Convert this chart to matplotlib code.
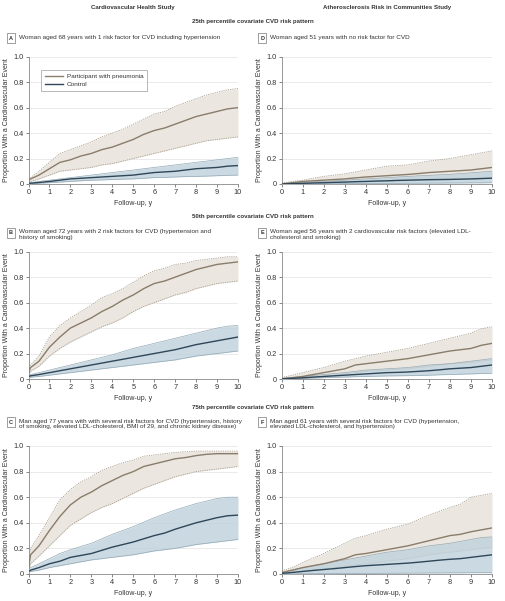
import matplotlib
matplotlib.use("Agg")
import matplotlib.pyplot as plt

# ----------------------------------------------------------------------------
# DATA
# ----------------------------------------------------------------------------
t = [0, 0.1, 0.5, 1.0, 1.5, 2.0, 2.5, 3.0, 3.5, 4.0, 4.5, 5.0, 5.5, 6.0, 6.5, 7.0, 7.5, 8.0, 8.5, 9.0, 9.5, 10.0]

# Panel A
a_pn_mean = [0.03, 0.04, 0.07, 0.12, 0.17, 0.19, 0.22, 0.24, 0.27, 0.29, 0.32, 0.35, 0.39, 0.42, 0.44, 0.47, 0.50, 0.53, 0.55, 0.57, 0.59, 0.60]
a_pn_hi = [0.04, 0.05, 0.10, 0.17, 0.24, 0.27, 0.30, 0.33, 0.37, 0.40, 0.43, 0.47, 0.51, 0.55, 0.57, 0.61, 0.64, 0.67, 0.70, 0.72, 0.74, 0.75]
a_pn_lo = [0.02, 0.02, 0.04, 0.07, 0.10, 0.11, 0.12, 0.13, 0.15, 0.16, 0.18, 0.20, 0.22, 0.24, 0.26, 0.28, 0.30, 0.32, 0.34, 0.35, 0.36, 0.37]
a_ct_mean = [0.005, 0.006, 0.012, 0.02, 0.03, 0.04, 0.045, 0.05, 0.055, 0.06, 0.065, 0.07, 0.08, 0.09, 0.095, 0.10, 0.11, 0.12, 0.125, 0.13, 0.14, 0.145]
a_ct_hi = [0.01, 0.012, 0.02, 0.03, 0.04, 0.05, 0.06, 0.07, 0.08, 0.09, 0.10, 0.11, 0.12, 0.13, 0.14, 0.15, 0.16, 0.17, 0.18, 0.19, 0.20, 0.21]
a_ct_lo = [0.0, 0.002, 0.006, 0.01, 0.015, 0.02, 0.025, 0.03, 0.032, 0.035, 0.038, 0.04, 0.045, 0.05, 0.052, 0.055, 0.058, 0.06, 0.062, 0.065, 0.068, 0.07]

# Panel D
d_pn_mean = [0.0, 0.003, 0.01, 0.02, 0.025, 0.03, 0.035, 0.04, 0.048, 0.055, 0.06, 0.065, 0.07, 0.075, 0.082, 0.09, 0.095, 0.10, 0.105, 0.11, 0.12, 0.13]
d_pn_hi = [0.005, 0.01, 0.02, 0.03, 0.045, 0.06, 0.07, 0.08, 0.095, 0.11, 0.125, 0.14, 0.145, 0.15, 0.165, 0.18, 0.19, 0.20, 0.215, 0.23, 0.245, 0.26]
d_pn_lo = [0.0, 0.0, 0.003, 0.006, 0.008, 0.01, 0.013, 0.016, 0.018, 0.02, 0.022, 0.024, 0.025, 0.026, 0.028, 0.03, 0.032, 0.034, 0.036, 0.038, 0.04, 0.042]
d_ct_mean = [0.0, 0.001, 0.003, 0.005, 0.008, 0.01, 0.013, 0.015, 0.018, 0.02, 0.023, 0.025, 0.028, 0.03, 0.032, 0.034, 0.035, 0.036, 0.038, 0.04, 0.043, 0.046]
d_ct_hi = [0.003, 0.004, 0.008, 0.012, 0.016, 0.02, 0.025, 0.03, 0.035, 0.04, 0.045, 0.05, 0.055, 0.06, 0.064, 0.068, 0.072, 0.076, 0.082, 0.088, 0.094, 0.10]
d_ct_lo = [0.0, 0.0, 0.0, 0.001, 0.001, 0.002, 0.002, 0.003, 0.003, 0.004, 0.004, 0.005, 0.005, 0.006, 0.006, 0.007, 0.007, 0.008, 0.008, 0.009, 0.009, 0.01]

# Panel B
b_pn_mean = [0.05, 0.09, 0.14, 0.25, 0.33, 0.40, 0.44, 0.48, 0.53, 0.57, 0.62, 0.66, 0.71, 0.75, 0.77, 0.80, 0.83, 0.86, 0.88, 0.90, 0.91, 0.92]
b_pn_hi = [0.07, 0.11, 0.18, 0.33, 0.42, 0.48, 0.53, 0.58, 0.64, 0.67, 0.71, 0.76, 0.81, 0.85, 0.87, 0.90, 0.91, 0.93, 0.94, 0.95, 0.96, 0.96]
b_pn_lo = [0.03, 0.06, 0.10, 0.18, 0.24, 0.29, 0.33, 0.37, 0.41, 0.44, 0.48, 0.53, 0.57, 0.60, 0.63, 0.66, 0.68, 0.71, 0.73, 0.75, 0.76, 0.77]
b_ct_mean = [0.02, 0.025, 0.035, 0.05, 0.065, 0.08, 0.095, 0.11, 0.125, 0.14, 0.155, 0.17, 0.185, 0.20, 0.215, 0.23, 0.25, 0.27, 0.285, 0.30, 0.315, 0.33]
b_ct_hi = [0.03, 0.035, 0.05, 0.07, 0.09, 0.11, 0.13, 0.15, 0.17, 0.19, 0.215, 0.24, 0.26, 0.28, 0.30, 0.32, 0.34, 0.36, 0.38, 0.40, 0.415, 0.42]
b_ct_lo = [0.01, 0.014, 0.02, 0.03, 0.04, 0.05, 0.06, 0.07, 0.08, 0.09, 0.10, 0.11, 0.12, 0.13, 0.14, 0.15, 0.165, 0.18, 0.19, 0.20, 0.21, 0.22]

# Panel E
e_pn_mean = [0.0, 0.003, 0.01, 0.02, 0.035, 0.05, 0.065, 0.08, 0.11, 0.12, 0.13, 0.14, 0.15, 0.16, 0.175, 0.19, 0.205, 0.22, 0.23, 0.24, 0.265, 0.28]
e_pn_hi = [0.01, 0.015, 0.03, 0.05, 0.07, 0.09, 0.115, 0.14, 0.16, 0.18, 0.195, 0.21, 0.225, 0.24, 0.26, 0.28, 0.30, 0.32, 0.34, 0.36, 0.395, 0.41]
e_pn_lo = [0.0, 0.0, 0.005, 0.01, 0.015, 0.02, 0.03, 0.04, 0.05, 0.06, 0.065, 0.07, 0.075, 0.08, 0.09, 0.10, 0.11, 0.12, 0.125, 0.13, 0.14, 0.15]
e_ct_mean = [0.0, 0.002, 0.005, 0.01, 0.015, 0.02, 0.025, 0.03, 0.035, 0.04, 0.045, 0.05, 0.052, 0.055, 0.06, 0.065, 0.072, 0.08, 0.085, 0.09, 0.10, 0.11]
e_ct_hi = [0.005, 0.008, 0.012, 0.02, 0.028, 0.035, 0.043, 0.05, 0.06, 0.07, 0.075, 0.08, 0.085, 0.09, 0.10, 0.11, 0.115, 0.12, 0.13, 0.14, 0.15, 0.16]
e_ct_lo = [0.0, 0.0, 0.002, 0.004, 0.007, 0.01, 0.013, 0.015, 0.018, 0.02, 0.022, 0.024, 0.025, 0.026, 0.028, 0.03, 0.033, 0.035, 0.038, 0.04, 0.043, 0.045]

# Panel C
c_pn_mean = [0.05, 0.15, 0.22, 0.34, 0.45, 0.54, 0.60, 0.64, 0.69, 0.73, 0.77, 0.80, 0.84, 0.86, 0.88, 0.90, 0.91, 0.925, 0.935, 0.94, 0.94, 0.94]
c_pn_hi = [0.08, 0.20, 0.30, 0.44, 0.58, 0.66, 0.72, 0.76, 0.81, 0.84, 0.87, 0.89, 0.92, 0.93, 0.94, 0.95, 0.955, 0.96, 0.96, 0.96, 0.96, 0.96]
c_pn_lo = [0.02, 0.08, 0.14, 0.22, 0.30, 0.38, 0.43, 0.48, 0.52, 0.55, 0.59, 0.63, 0.67, 0.70, 0.73, 0.76, 0.78, 0.80, 0.81, 0.82, 0.83, 0.84]
c_ct_mean = [0.02, 0.03, 0.05, 0.08, 0.10, 0.13, 0.145, 0.16, 0.185, 0.21, 0.23, 0.25, 0.275, 0.30, 0.32, 0.35, 0.375, 0.40, 0.42, 0.44, 0.455, 0.46]
c_ct_hi = [0.03, 0.05, 0.08, 0.12, 0.16, 0.19, 0.215, 0.24, 0.275, 0.31, 0.34, 0.37, 0.405, 0.44, 0.47, 0.50, 0.525, 0.55, 0.57, 0.59, 0.60, 0.60]
c_ct_lo = [0.01, 0.02, 0.03, 0.05, 0.065, 0.08, 0.095, 0.11, 0.12, 0.13, 0.14, 0.15, 0.165, 0.18, 0.19, 0.20, 0.215, 0.23, 0.24, 0.25, 0.26, 0.27]

# Panel F
f_pn_mean = [0.01, 0.015, 0.03, 0.05, 0.065, 0.08, 0.10, 0.12, 0.15, 0.16, 0.175, 0.19, 0.205, 0.22, 0.24, 0.26, 0.28, 0.30, 0.31, 0.33, 0.345, 0.36]
f_pn_hi = [0.02, 0.03, 0.05, 0.09, 0.125, 0.16, 0.20, 0.24, 0.28, 0.30, 0.325, 0.35, 0.37, 0.39, 0.425, 0.46, 0.49, 0.52, 0.545, 0.60, 0.615, 0.63]
f_pn_lo = [0.0, 0.005, 0.012, 0.02, 0.03, 0.04, 0.05, 0.06, 0.07, 0.08, 0.09, 0.10, 0.11, 0.12, 0.135, 0.15, 0.16, 0.17, 0.18, 0.19, 0.20, 0.21]
f_ct_mean = [0.005, 0.006, 0.012, 0.02, 0.028, 0.035, 0.042, 0.05, 0.058, 0.065, 0.07, 0.075, 0.08, 0.085, 0.092, 0.10, 0.108, 0.115, 0.12, 0.13, 0.14, 0.15]
f_ct_hi = [0.01, 0.015, 0.03, 0.05, 0.065, 0.08, 0.095, 0.11, 0.125, 0.14, 0.155, 0.17, 0.18, 0.19, 0.205, 0.22, 0.23, 0.24, 0.255, 0.27, 0.285, 0.29]
f_ct_lo = [0.0, 0.0, 0.001, 0.002, 0.002, 0.003, 0.003, 0.004, 0.004, 0.005, 0.005, 0.006, 0.006, 0.007, 0.007, 0.008, 0.008, 0.009, 0.009, 0.01, 0.01, 0.01]

panel_letters = ["A", "D", "B", "E", "C", "F"]
panel_titles = [
    "Woman aged 68 years with 1 risk factor for CVD including hypertension",
    "Woman aged 51 years with no risk factor for CVD",
    "Woman aged 72 years with 2 risk factors for CVD (hypertension and\nhistory of smoking)",
    "Woman aged 56 years with 2 cardiovascular risk factors (elevated LDL-\ncholesterol and smoking)",
    "Man aged 77 years with with several risk factors for CVD (hypertension, history\nof smoking, elevated LDL-cholesterol, BMI of 29, and chronic kidney disease)",
    "Man aged 61 years with several risk factors for CVD (hypertension,\nelevated LDL-cholesterol, and hypertension)",
]
column_titles = ["Cardiovascular Health Study", "Atherosclerosis Risk in Communities Study"]
row_titles = ["25th percentile covariate CVD risk pattern",
              "50th percentile covariate CVD risk pattern",
              "75th percentile covariate CVD risk pattern"]
series_labels = ["Participant with pneumonia", "Control"]

# ----------------------------------------------------------------------------
# STYLE
# ----------------------------------------------------------------------------
plt.rcParams["font.family"] = ["Liberation Sans Narrow", "Liberation Sans", "DejaVu Sans"]

W, H = 505, 601
PN_FILL, PN_EDGE, PN_LINE = "#ebe7e0", "#a99e90", "#8a7c6b"
CT_FILL, CT_EDGE, CT_LINE = "#bfd1db", "#93a9b6", "#2f4658"
TXT = "#333333"


def px(x, y):
    return x / W, 1 - y / H


fig = plt.figure(figsize=(W / 100, H / 100), dpi=100)

panels = [
    (a_pn_mean, a_pn_lo, a_pn_hi, a_ct_mean, a_ct_lo, a_ct_hi),
    (d_pn_mean, d_pn_lo, d_pn_hi, d_ct_mean, d_ct_lo, d_ct_hi),
    (b_pn_mean, b_pn_lo, b_pn_hi, b_ct_mean, b_ct_lo, b_ct_hi),
    (e_pn_mean, e_pn_lo, e_pn_hi, e_ct_mean, e_ct_lo, e_ct_hi),
    (c_pn_mean, c_pn_lo, c_pn_hi, c_ct_mean, c_ct_lo, c_ct_hi),
    (f_pn_mean, f_pn_lo, f_pn_hi, f_ct_mean, f_ct_lo, f_ct_hi),
]

# axes boxes in pixels: (left, right) and (top, bottom)
col_x = [(28.5, 238.0), (281.7, 492.0)]
row_y = [(56.7, 184.0), (251.7, 379.0), (446.0, 574.0)]
title_y = [38, 38, 233, 233, 422, 422]

for i, (pm, pl, ph, cm, cl, ch) in enumerate(panels):
    r, c = divmod(i, 2)
    x0, x1 = col_x[c]
    y0, y1 = row_y[r]
    ax = fig.add_axes([x0 / W, 1 - y1 / H, (x1 - x0) / W, (y1 - y0) / H])

    ax.fill_between(t, pl, ph, color=PN_FILL, lw=0, zorder=1)
    ax.plot(t, ph, color=PN_EDGE, lw=0.6, ls=(0, (1.5, 1.2)), zorder=2)
    ax.plot(t, pl, color=PN_EDGE, lw=0.6, ls=(0, (1.5, 1.2)), zorder=2)
    ax.fill_between(t, cl, ch, color=CT_FILL, alpha=0.8, lw=0, zorder=3)
    ax.plot(t, ch, color=CT_EDGE, lw=0.5, zorder=4)
    ax.plot(t, cl, color=CT_EDGE, lw=0.5, zorder=4)
    l1, = ax.plot(t, pm, color=PN_LINE, lw=1.0, zorder=5)
    l2, = ax.plot(t, cm, color=CT_LINE, lw=1.0, zorder=6)

    ax.set_xlim(0, 10)
    ax.set_ylim(0, 1)
    ax.set_xticks(range(0, 11))
    ax.set_yticks([0, 0.2, 0.4, 0.6, 0.8, 1.0])
    ax.set_yticklabels(["0", "0.2", "0.4", "0.6", "0.8", "1.0"])
    ax.grid(axis="y", color="#e6e6e6", lw=0.6, zorder=0)
    ax.set_axisbelow(True)
    for s in ["top", "right"]:
        ax.spines[s].set_visible(False)
    for s in ["left", "bottom"]:
        ax.spines[s].set_color("#888888")
        ax.spines[s].set_linewidth(0.6)
    ax.tick_params(labelsize=5.3, colors="#555555", length=2, width=0.5, pad=1.5)
    for lab in ax.get_xticklabels() + ax.get_yticklabels():
        lab.set_color(TXT)
    ax.set_ylabel("Proportion With a Cardiovascular Event", fontsize=5, color=TXT, labelpad=2.5)
    ax.set_xlabel("Follow-up, y", fontsize=5, color=TXT, labelpad=3)

    if i == 0:
        leg = ax.legend([l1, l2], series_labels, loc="upper left", bbox_to_anchor=(0.045, 0.92),
                        fontsize=4.6, frameon=True, fancybox=False, handlelength=2.9, borderpad=0.6,
                        labelspacing=0.35, handletextpad=0.5)
        leg.get_frame().set_edgecolor("#999999")
        leg.get_frame().set_linewidth(0.6)
        for txt in leg.get_texts():
            txt.set_color(TXT)

    # panel letter box and title
    lx = x0 - 17.5 if c == 0 else x0 - 19.5
    fig.text(*px(lx, title_y[i]), panel_letters[i], fontsize=4.0, fontweight="bold", color=TXT,
             ha="center", va="center",
             bbox=dict(boxstyle="square,pad=0.4", fc="white", ec="#777777", lw=0.5))
    fig.text(*px(lx + 8, title_y[i] - 3.5), panel_titles[i], fontsize=4.6, color=TXT,
             ha="left", va="top", linespacing=1.2)

# column and row headings
fig.text(*px(133, 7), column_titles[0], fontsize=4.4, fontweight="bold", color=TXT, ha="center", va="center")
fig.text(*px(387, 7), column_titles[1], fontsize=4.4, fontweight="bold", color=TXT, ha="center", va="center")
for yy, s in zip([21, 216.5, 408], row_titles):
    fig.text(*px(252.5, yy), s, fontsize=4.4, fontweight="bold", color=TXT, ha="center", va="center")

fig.savefig("out.png", dpi=100, facecolor="white")
